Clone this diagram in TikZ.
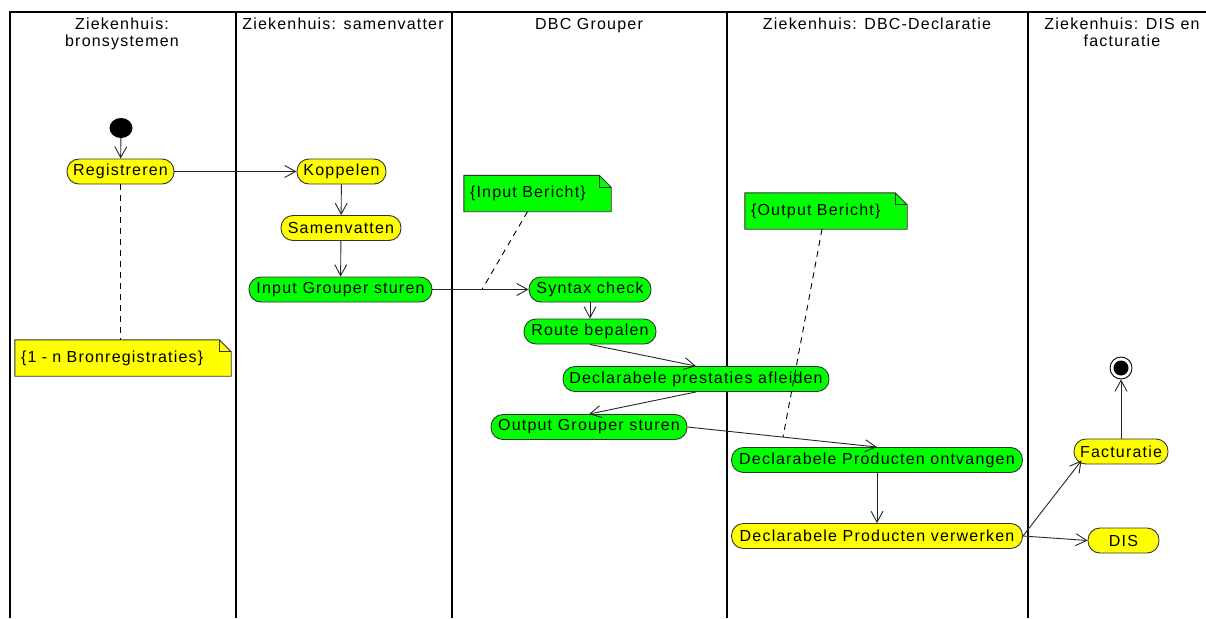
\documentclass[tikz,border=0pt]{standalone}
\usepackage{fontspec}
\setmainfont{Liberation Sans}[LetterSpace=7.5]
\usetikzlibrary{arrows.meta,shapes.geometric}
\pgfdeclarelayer{background}
\pgfsetlayers{background,main}
\definecolor{nyellow}{HTML}{FFFF00}
\definecolor{ngreen}{HTML}{00FF00}
\definecolor{edgegray}{HTML}{333333}
\newcommand\drawnote[2]{%
  \begin{pgfonlayer}{background}
  \filldraw[fill=#2, draw=edgegray, line width=0.9pt]
    (#1.north west) -- ([xshift=-12pt]#1.north east) -- ([yshift=-12pt]#1.north east)
    -- (#1.south east) -- (#1.south west) -- cycle;
  \draw[edgegray, line width=0.9pt] ([xshift=-12pt]#1.north east) |- ([yshift=-12pt]#1.north east);
  \end{pgfonlayer}}
\begin{document}
\begin{tikzpicture}[x=1pt,y=-1pt,
  font=\fontsize{16}{18}\selectfont,
  act/.style={draw=edgegray, line width=0.9pt, rounded corners=12pt, minimum height=25pt, inner sep=0pt},
  yact/.style={act, fill=nyellow},
  gact/.style={act, fill=ngreen},
  flow/.style={draw=black!85, line width=0.9pt, -{Straight Barb[length=11pt,width=12pt,line width=0.9pt]}},
  anchorline/.style={draw=black, line width=0.9pt, dash pattern=on 6pt off 5pt},
  lane/.style={draw=black, line width=1.3pt},
  notebox/.style={draw=none, inner xsep=6pt, inner ysep=0pt, align=left, minimum height=36pt},
  hdr/.style={inner sep=0pt, anchor=base},
]
\useasboundingbox (0,0) rectangle (1206,618);
% lanes
\draw[lane] (10,618) -- (10,12) -- (1206,12);
\draw[lane] (236,12) -- (236,618);
\draw[lane] (452,12) -- (452,618);
\draw[lane] (727,12) -- (727,618);
\draw[lane] (1028,12) -- (1028,618);
% headers
\node[hdr] (h1a) at (122,29.5) {Ziekenhuis:};
\node[hdr] (h1b) at (122,46.5) {bronsystemen};
\node[hdr] (h2) at (343,29.5) {Ziekenhuis: samenvatter};
\node[hdr] (h3) at (589,29.5) {DBC Grouper};
\node[hdr] (h4) at (877,29.5) {Ziekenhuis: DBC-Declaratie};
\node[hdr] (h5a) at (1122,29.5) {Ziekenhuis: DIS en};
\node[hdr] (h5b) at (1122,46.5) {facturatie};
% start / end
\node[ellipse, fill=black, minimum width=23pt, minimum height=20pt, inner sep=0pt] (start) at (121,128) {};
\node[circle, draw=black, line width=0.9pt, minimum size=22pt, inner sep=0pt] (end) at (1121,368) {};
\fill[black] (end.center) circle (7.5pt);
% activities
\node[yact, minimum width=107pt] (reg) at (120.5,171.5) {Registreren};
\node[yact, minimum width=89pt] (kop) at (341.5,171.5) {Koppelen};
\node[yact, minimum width=120pt] (sam) at (341,228) {Samenvatten};
\node[gact, minimum width=183pt] (inp) at (340.5,289.5) {Input Grouper sturen};
\node[gact, minimum width=122pt] (syn) at (590,289.5) {Syntax check};
\node[gact, minimum width=132pt] (rou) at (590,331.5) {Route bepalen};
\node[gact, minimum width=266pt] (dpa) at (696,379) {Declarabele prestaties afleiden};
\node[gact, minimum width=196pt] (out) at (589,427) {Output Grouper sturen};
\node[gact, minimum width=291pt] (ont) at (877,460) {Declarabele Producten ontvangen};
\node[yact, minimum width=291pt] (ver) at (877,536) {Declarabele Producten verwerken};
\node[yact, minimum width=94pt] (fac) at (1121,451.5) {Facturatie};
\node[yact, minimum width=71pt] (dis) at (1123.5,540.5) {DIS};
% notes
\node[notebox, text width=204pt] (nb) at (123,358) {\{1 - n Bronregistraties\}};
\node[notebox, text width=135pt] (ni) at (537.5,193.5) {\{Input Bericht\}};
\node[notebox, text width=150pt] (no) at (826,211) {\{Output Bericht\}};
\drawnote{nb}{nyellow}
\drawnote{ni}{ngreen}
\drawnote{no}{ngreen}
% flows
\draw[flow] (start) -- (reg);
\draw[flow] (reg) -- (kop);
\draw[flow] (kop) -- (sam);
\draw[flow] (sam) -- (inp);
\draw[flow] (inp) -- (syn);
\draw[flow] (syn) -- (rou);
\draw[flow] (rou.south) -- (dpa.north);
\draw[flow] (dpa.south) -- (out.north);
\draw[flow] (out.east) -- (ont.north);
\draw[flow] (ont) -- (ver);
\draw[flow] (ver.east) -- ([xshift=8pt,yshift=4pt]fac.south west);
\draw[flow] (ver.east) -- (dis.west);
\draw[flow] (fac) -- (end);
% note anchors
\coordinate (ip) at (482,289.5);
\coordinate (op) at (783,437);
\draw[anchorline] (reg.south) -- (reg.south |- nb.north);
\draw[anchorline] ([xshift=-10pt]ni.south) -- (ip);
\draw[anchorline] ([xshift=-4pt]no.south) -- (op);
\end{tikzpicture}
\end{document}
